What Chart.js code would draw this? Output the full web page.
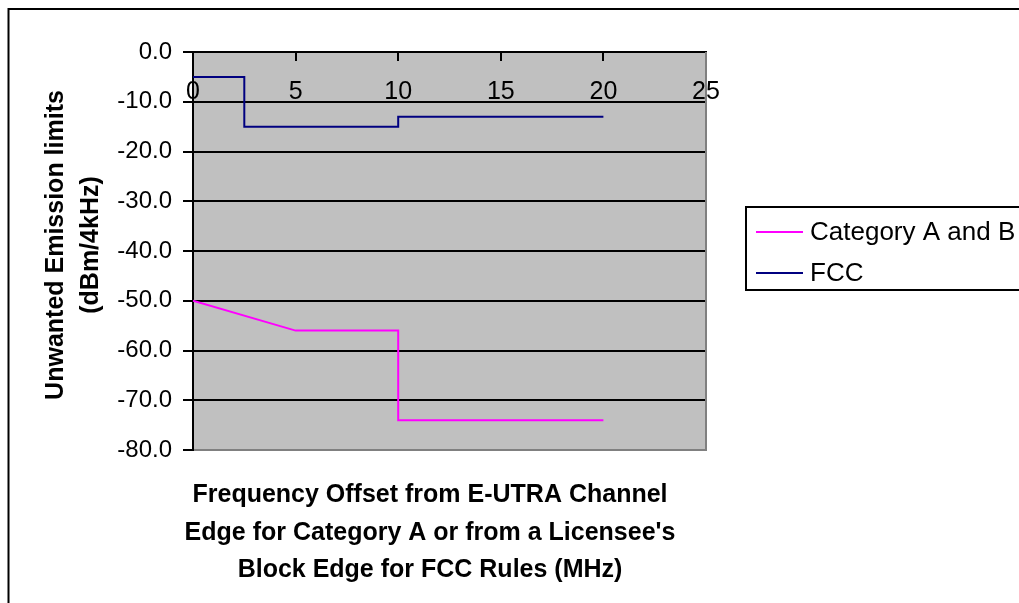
<!DOCTYPE html>
<html>
<head>
<meta charset="utf-8">
<script src="https://cdn.jsdelivr.net/npm/chart.js@4.4.1/dist/chart.umd.min.js"></script>
<style>
    html, body { margin: 0; padding: 0; background: #fff; }
    canvas { display: block; }
</style>
</head>
<body>
<canvas id="emissionChart" width="1019" height="603"></canvas>
<script>
// Data
const seriesNames = ['Category A and B', 'FCC'];
const seriesColors = ['#ff00ff', '#000080'];
const catX = [0, 5, 10, 10, 20];
const catY = [-50, -56, -56, -74, -74];
const fccX = [0, 2.5, 2.5, 10, 10, 20];
const fccY = [-5, -5, -15, -15, -13, -13];
const xTicks = [0, 5, 10, 15, 20, 25];
const yTicks = [0, -10, -20, -30, -40, -50, -60, -70, -80];
const xTitle = ['Frequency Offset from E-UTRA Channel',
                "Edge for Category A or from a Licensee's",
                'Block Edge for FCC Rules (MHz)'];
const yTitle = ['Unwanted Emission limits', '(dBm/4kHz)'];

const FONT = "'Liberation Sans', Arial, sans-serif";

// plot background, frame, titles and legend box like the old Excel chart
const excelLook = {
    id: 'excelLook',
    beforeDraw(chart) {
        const { ctx, chartArea: a } = chart;
        ctx.save();
        ctx.fillStyle = '#fff';
        ctx.fillRect(0, 0, chart.width, chart.height);
        ctx.strokeStyle = '#000';
        ctx.lineWidth = 2;
        ctx.strokeRect(8.5, 9, 1200, 800);
        ctx.fillStyle = '#c0c0c0';
        ctx.fillRect(a.left, a.top, a.right - a.left, a.bottom - a.top);
        ctx.restore();
    },
    afterDraw(chart) {
        const { ctx, chartArea: a } = chart;
        ctx.save();
        // grey shadow edge right and bottom
        ctx.strokeStyle = '#808080';
        ctx.lineWidth = 2;
        ctx.beginPath();
        ctx.moveTo(a.right, a.top);
        ctx.lineTo(a.right, a.bottom + 1);
        ctx.moveTo(a.left + 1, a.bottom);
        ctx.lineTo(a.right + 1, a.bottom);
        ctx.stroke();

        // axis titles
        ctx.fillStyle = '#000';
        ctx.font = 'bold 25px ' + FONT;
        ctx.textAlign = 'center';
        ctx.textBaseline = 'alphabetic';
        xTitle.forEach((line, i) => ctx.fillText(line, 430, 502 + i * 37.5));
        yTitle.forEach((line, i) => {
            ctx.save();
            ctx.translate(63 + i * 35, 245);
            ctx.rotate(-Math.PI / 2);
            ctx.fillText(line, 0, 0);
            ctx.restore();
        });

        // legend
        ctx.strokeStyle = '#000';
        ctx.lineWidth = 2;
        ctx.strokeRect(746, 207, 400, 83);
        ctx.font = '26px ' + FONT;
        ctx.textAlign = 'left';
        chart.data.datasets.forEach((ds, i) => {
            const y = 232 + i * 41;
            ctx.strokeStyle = ds.borderColor;
            ctx.beginPath();
            ctx.moveTo(756, y);
            ctx.lineTo(803, y);
            ctx.stroke();
            ctx.fillText(ds.label, 810, y + 8);
        });
        ctx.restore();
    }
};

const ctx = document.getElementById('emissionChart').getContext('2d');

new Chart(ctx, {
    type: 'scatter',
    data: {
        datasets: [{
            label: seriesNames[0],
            data: catX.map((x, i) => ({ x: x, y: catY[i] })),
            borderColor: seriesColors[0],
            backgroundColor: seriesColors[0],
            showLine: true,
            borderWidth: 2,
            pointRadius: 0,
            fill: false
        }, {
            label: seriesNames[1],
            data: fccX.map((x, i) => ({ x: x, y: fccY[i] })),
            borderColor: seriesColors[1],
            backgroundColor: seriesColors[1],
            showLine: true,
            borderWidth: 2,
            pointRadius: 0,
            fill: false
        }]
    },
    options: {
        responsive: false,
        animation: false,
        layout: { padding: { left: 0, top: 52, right: 313, bottom: 153 } },
        plugins: {
            legend: { display: false },
            tooltip: { enabled: false }
        },
        scales: {
            x: {
                type: 'linear',
                position: { y: 0 },
                min: 0,
                max: 25,
                afterBuildTicks: scale => { scale.ticks = xTicks.map(v => ({ value: v })); },
                grid: { drawOnChartArea: false, color: '#000', lineWidth: 2, tickLength: 8 },
                border: { color: '#000', width: 2 },
                ticks: {
                    color: '#000',
                    font: { family: FONT, size: 25, lineHeight: 1.2 },
                    padding: 17,
                    maxRotation: 0,
                    autoSkip: false
                }
            },
            y: {
                min: -80,
                max: 0,
                afterBuildTicks: scale => { scale.ticks = yTicks.map(v => ({ value: v })); },
                afterFit: scale => { scale.width = 193; },
                grid: {
                    color: c => (c.tick && c.tick.value === -80) ? '#808080' : '#000',
                    tickColor: '#000',
                    lineWidth: 2,
                    tickLength: 10
                },
                border: { color: '#000', width: 2 },
                ticks: {
                    color: '#000',
                    font: { family: FONT, size: 24 },
                    padding: 11,
                    callback: v => v.toFixed(1)
                }
            }
        }
    },
    plugins: [excelLook]
});
</script>
</body>
</html>
